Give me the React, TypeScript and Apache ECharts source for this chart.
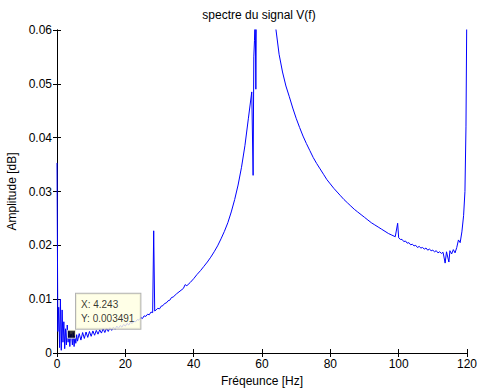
import React, { useEffect, useRef } from "react";
import * as echarts from "echarts";

const freqHz: number[] = [
  0, 0.25, 0.5, 0.75, 1.0, 1.25, 1.5, 1.75, 2.0, 2.25, 2.5, 2.75, 3.0, 3.25, 3.5, 3.75, 4.0, 4.243, 4.5, 4.75,
  5.0, 5.25, 5.5, 5.75, 6.0, 6.5, 7.0, 7.5, 8.0, 8.5, 9.0, 9.5, 10, 10.5, 11, 11.5, 12, 12.5, 13, 13.5,
  14, 14.5, 15, 15.5, 16, 16.5, 17, 17.5, 18, 18.5, 19, 19.5, 20, 20.5, 21, 21.5, 22, 22.5, 23, 23.5,
  24, 24.5, 25, 25.5, 26, 26.5, 27, 27.5, 28, 28.3, 28.6, 29, 29.5, 30, 30.5, 31, 31.5, 32, 32.5, 33,
  33.5, 34, 35, 36, 37, 37.5, 38, 39, 40, 41, 42, 43, 44, 45, 46, 47, 48, 49, 50, 51,
  52, 53, 54, 55, 56, 57, 57.4, 57.6, 57.8, 58.0, 58.2, 58.4, 59, 60, 61, 62, 63, 64, 65, 66,
  67, 68, 69, 70, 71, 72, 73, 74, 75, 76, 77, 78, 79, 80, 81, 82, 83, 84, 85, 86,
  87, 88, 89, 90, 91, 92, 93, 94, 95, 96, 97, 98, 99, 99.7, 100, 100.5, 101, 101.5, 102, 102.5,
  103, 103.5, 104, 104.5, 105, 105.5, 106, 106.5, 107, 107.5, 108, 108.5, 109, 109.5, 110, 110.5, 111, 111.5, 112, 112.5,
  113, 113.6, 114, 114.7, 115, 115.5, 116, 116.5, 117, 117.5, 118, 118.5, 119, 119.4, 119.7, 119.9, 120,
];

const amplitude: number[] = [
  0.0353, 0.004, 0.0085, 0.001, 0.0100, 0.0005, 0.008, 0.002, 0.0058, 0.0008, 0.0045, 0.0015, 0.0052, 0.002, 0.0040, 0.0012, 0.0035, 0.003491, 0.0015, 0.0038,
  0.0012, 0.0032, 0.0018, 0.0034, 0.0022, 0.0036, 0.0024, 0.0038, 0.0027, 0.0039, 0.0029, 0.0040, 0.0031, 0.0041, 0.0033, 0.0042, 0.0035, 0.0043, 0.0037, 0.0045,
  0.0038, 0.0046, 0.0040, 0.0047, 0.0042, 0.0048, 0.0044, 0.0050, 0.0046, 0.0051, 0.0048, 0.0053, 0.0050, 0.0055, 0.0052, 0.0057, 0.0055, 0.0059, 0.0058, 0.0062,
  0.0061, 0.0066, 0.0064, 0.0069, 0.0068, 0.0072, 0.0071, 0.0076, 0.0075, 0.0227, 0.0078, 0.0080, 0.0083, 0.0082, 0.0087, 0.0088, 0.0092, 0.0093, 0.0097, 0.0098,
  0.0103, 0.0104, 0.0110, 0.0115, 0.0120, 0.0127, 0.0125, 0.0131, 0.0138, 0.0146, 0.0153, 0.0161, 0.0169, 0.0178, 0.0188, 0.0199, 0.0212, 0.0226, 0.0242, 0.0262,
  0.0285, 0.0312, 0.0345, 0.0385, 0.0435, 0.0485, 0.0330, 0.0550, 0.0580, 0.0640, 0.0490, 0.0680, 0.0800, 0.1100, 0.1500, 0.2000, 0.1200, 0.0605, 0.0555, 0.0522,
  0.0496, 0.0476, 0.0455, 0.0436, 0.0419, 0.0403, 0.0389, 0.0376, 0.0363, 0.0352, 0.0342, 0.0332, 0.0322, 0.0314, 0.0306, 0.0299, 0.0292, 0.0285, 0.0279, 0.0273,
  0.0267, 0.0262, 0.0257, 0.0252, 0.0247, 0.0242, 0.0238, 0.0234, 0.0230, 0.0226, 0.0222, 0.0219, 0.0216, 0.0241, 0.0214, 0.0211, 0.0211, 0.0207, 0.0208, 0.0204,
  0.0205, 0.0201, 0.0202, 0.0199, 0.0200, 0.0196, 0.0198, 0.0195, 0.0196, 0.0193, 0.0195, 0.0191, 0.0193, 0.0190, 0.0191, 0.0188, 0.0190, 0.0186, 0.0188, 0.0185,
  0.0187, 0.0167, 0.0188, 0.0169, 0.0190, 0.0184, 0.0192, 0.0186, 0.0196, 0.0210, 0.0205, 0.0225, 0.0255, 0.0300, 0.0420, 0.0600, 0.0750,
];

const xTicks = { min: 0, max: 120, interval: 20 };
const yTicks = { min: 0, max: 0.06, interval: 0.01 };

const dataTipX = 4.243;
const dataTipY = 0.003491;

const FONT = "'Liberation Sans', Arial, Helvetica, sans-serif";

export default function App() {
  const ref = useRef<HTMLDivElement>(null);
  useEffect(() => {
    if (!ref.current) return;
    const chart = echarts.init(ref.current, undefined, { renderer: "svg" });
    const lineData = freqHz.map((f, i) => [f, amplitude[i]]);
    const axisLine = { show: true, lineStyle: { color: "#000", width: 1 } };
    const tick = { show: true, inside: true, length: 4, lineStyle: { color: "#000" } };
    chart.setOption({
      animation: false,
      backgroundColor: "#fff",
      title: {
        text: "spectre du signal V(f)",
        left: 259,
        top: 9,
        textAlign: "center",
        padding: 0,
        textStyle: { fontFamily: FONT, fontSize: 12, fontWeight: "normal", color: "#000" },
      },
      grid: { left: 57, right: 11, top: 30, bottom: 36, containLabel: false, outerBoundsMode: "none" },
      xAxis: [
        {
          type: "value",
          min: xTicks.min,
          max: xTicks.max,
          interval: xTicks.interval,
          position: "bottom",
          axisLine,
          axisTick: tick,
          splitLine: { show: false },
          axisLabel: { fontFamily: FONT, fontSize: 12, color: "#000", margin: 5 },
          name: "Fréqeunce [Hz]",
          nameLocation: "middle",
          nameGap: 21,
          nameTextStyle: { fontFamily: FONT, fontSize: 12, color: "#000" },
        },
        {
          type: "value",
          min: xTicks.min,
          max: xTicks.max,
          interval: xTicks.interval,
          position: "top",
          axisLine,
          axisTick: tick,
          splitLine: { show: false },
          axisLabel: { show: false },
        },
      ],
      yAxis: [
        {
          type: "value",
          min: yTicks.min,
          max: yTicks.max,
          interval: yTicks.interval,
          position: "left",
          axisLine,
          axisTick: tick,
          splitLine: { show: false },
          axisLabel: { fontFamily: FONT, fontSize: 12, color: "#000", margin: 5 },
          name: "Amplitude [dB]",
          nameLocation: "middle",
          nameGap: 37,
          nameTextStyle: { fontFamily: FONT, fontSize: 12, color: "#000" },
        },
        {
          type: "value",
          min: yTicks.min,
          max: yTicks.max,
          interval: yTicks.interval,
          position: "right",
          axisLine,
          axisTick: tick,
          splitLine: { show: false },
          axisLabel: { show: false },
        },
      ],
      series: [
        {
          type: "line",
          data: lineData,
          xAxisIndex: 0,
          yAxisIndex: 0,
          showSymbol: false,
          symbol: "none",
          clip: true,
          lineStyle: { color: "#0000ff", width: 1 },
        },
        {
          type: "scatter",
          data: [[dataTipX, dataTipY]],
          xAxisIndex: 0,
          yAxisIndex: 0,
          symbol: "rect",
          symbolSize: 8,
          itemStyle: { color: "#000", borderColor: "#ffffe1", borderWidth: 1 },
          label: {
            show: true,
            position: [9, -36],
            formatter: "X: " + dataTipX + "\nY: " + dataTipY,
            fontFamily: FONT,
            fontSize: 10,
            lineHeight: 14,
            color: "#000",
            backgroundColor: "#ffffe1",
            borderColor: "#a0a0a0",
            borderWidth: 1,
            padding: [4, 6, 3, 5],
            align: "left",
            verticalAlign: "top",
          },
          z: 5,
        },
      ],
    });
    return () => chart.dispose();
  }, []);
  return (
    <div
      ref={ref}
      style={{ position: "fixed", left: 0, top: 0, width: 478, height: 389, background: "#fff" }}
    />
  );
}
